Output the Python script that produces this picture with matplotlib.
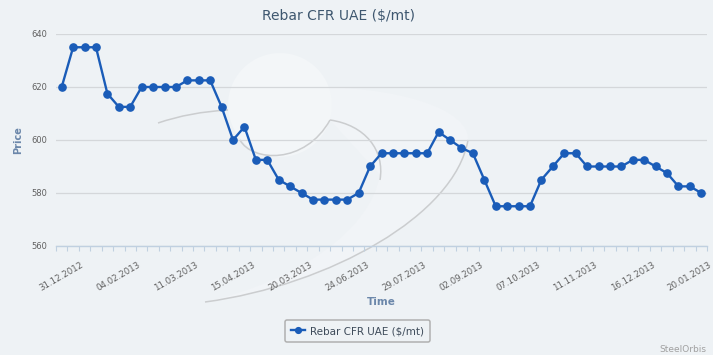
import numpy as np
import matplotlib.pyplot as plt
from matplotlib.path import Path
from matplotlib.patches import PathPatch, Circle
from matplotlib.transforms import ScaledTranslation

# weekly rebar price, CFR UAE ($/mt)
prices = [620, 635, 635, 635, 617.5, 612.5, 612.5, 620, 620, 620, 620,
          622.5, 622.5, 622.5, 612.5, 600, 605, 592.5, 592.5, 585, 582.5,
          580, 577.5, 577.5, 577.5, 577.5, 580, 590, 595, 595, 595, 595,
          595, 603, 600, 597, 595, 585, 575, 575, 575, 575, 585, 590, 595,
          595, 590, 590, 590, 590, 592.5, 592.5, 590, 587.5, 582.5, 582.5,
          580]
# labels as printed on the original chart (every 5th week)
tick_labels = ["31.12.2012", "04.02.2013", "11.03.2013", "15.04.2013",
               "20.03.2013", "24.06.2013", "29.07.2013", "02.09.2013",
               "07.10.2013", "11.11.2013", "16.12.2013", "20.01.2013"]
label_step = 5
y_ticks = [560, 580, 600, 620, 640]

W, H = 713, 355
BG = '#eef2f5'
LINE = '#1a5cb8'
AXCOL = '#6b87aa'

fig = plt.figure(figsize=(W / 100, H / 100), dpi=100)
fig.patch.set_facecolor(BG)

# --- background watermark (pixel coords) ---
bg = fig.add_axes([0, 0, 1, 1])
bg.set_xlim(0, W)
bg.set_ylim(H, 0)
bg.axis('off')

C3, C4, M = Path.CURVE3, Path.CURVE4, Path.MOVETO
lobe = Path([(300, 87), (400, 85), (470, 110), (468, 140),
             (455, 215), (330, 285), (205, 302),
             (300, 280), (370, 230), (380, 175)],
            [M, C4, C4, C4, C4, C4, C4, C4, C4, C4])
bg.add_patch(PathPatch(lobe, fc='#f1f4f7', ec='none'))
bg.add_patch(Circle((280, 105), 52, fc='#f3f6f8', ec='none'))

curves = [
    Path([(158, 123), (190, 112), (228, 110)], [M, C3, C3]),
    Path([(240, 140), (252, 162), (305, 165), (330, 120)], [M, C4, C4, C4]),
    Path([(330, 120), (365, 125), (385, 150), (380, 180)], [M, C4, C4, C4]),
    Path([(205, 302), (330, 285), (455, 215), (468, 140)], [M, C4, C4, C4]),
]
for p in curves:
    bg.add_patch(PathPatch(p, fc='none', ec='#cbcdcf', lw=1.1))

# --- main chart ---
ax = fig.add_axes([56 / W, 1 - 246 / H, 651 / W, 212 / H])
ax.set_facecolor('none')

x = np.arange(len(prices))
ax.plot(x, prices, color=LINE, lw=1.7, marker='o', ms=5.2,
        mec=LINE, mfc=LINE, clip_on=False, zorder=3,
        label='Rebar CFR UAE ($/mt)')

ax.set_xlim(-0.5, len(prices) - 0.5)
ax.set_ylim(560, 640)
ax.set_yticks(y_ticks)
ax.grid(axis='y', color='#d4d7da', lw=0.9)
ax.set_axisbelow(True)
for s in ['top', 'right', 'left']:
    ax.spines[s].set_visible(False)
ax.spines['bottom'].set_color('#c0d0e0')
ax.spines['bottom'].set_linewidth(1.0)

ax.tick_params(axis='y', length=0, pad=6, labelsize=6, labelcolor='#606060')

ax.set_xticks(x[::label_step])
ax.set_xticklabels(tick_labels)
ax.set_xticks(np.arange(-0.5, len(prices)), minor=True)
ax.tick_params(axis='x', which='major', length=0, pad=10,
               labelsize=6.2, labelcolor='#606060')
ax.tick_params(axis='x', which='minor', length=3.6, width=0.8,
               color='#c0d0e0')
shift = ScaledTranslation(19 / 100, 0, fig.dpi_scale_trans)
for lbl in ax.get_xticklabels():
    lbl.set_rotation(30)
    lbl.set_ha('right')
    lbl.set_va('top')
    lbl.set_rotation_mode('anchor')
    lbl.set_transform(lbl.get_transform() + shift)

fig.text(338 / W, 1 - 16 / H, 'Rebar CFR UAE ($/mt)', ha='center',
         va='center', fontsize=10, color='#3e576f')
fig.text(18 / W, 1 - 140 / H, 'Price', rotation=90, ha='center',
         va='center', fontsize=7, fontweight='bold', color=AXCOL)
fig.text(381 / W, 1 - 302 / H, 'Time', ha='center', va='center',
         fontsize=7.5, fontweight='bold', color=AXCOL)
fig.text(706 / W, 1 - 349 / H, 'SteelOrbis', ha='right', va='center',
         fontsize=6.5, color='#a0a0a0')

leg = ax.legend(loc='center', bbox_to_anchor=(357.5 / W, 1 - 331 / H),
                bbox_transform=fig.transFigure, fontsize=7.5,
                handlelength=1.35, handletextpad=0.5, borderpad=0.55,
                markerscale=0.8, fancybox=True, framealpha=1,
                facecolor=BG, edgecolor='#b0b0b0', labelcolor='#3e4b5a')
leg.get_frame().set_linewidth(1.1)

fig.savefig('out.png', dpi=100, facecolor=BG)
